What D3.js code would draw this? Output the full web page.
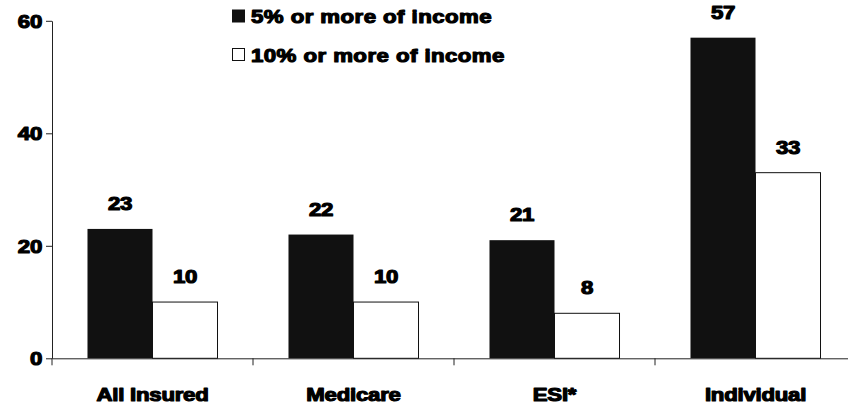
<!DOCTYPE html>
<html><head><meta charset="utf-8">
<script src="https://cdn.jsdelivr.net/npm/d3@7"></script>
<style>
body{margin:0;background:#fff;}
svg{display:block;}
text{font-family:"Liberation Sans",Arial,sans-serif;font-weight:bold;fill:#000;stroke:#000;stroke-width:1.1px;stroke-linejoin:round;letter-spacing:-0.2px;}
text.legend{letter-spacing:0.35px;}
</style></head>
<body>
<svg id="chart" width="848" height="406"></svg>
<script>
const categories = ["All Insured","Medicare","ESI*","Individual"];
const seriesNames = ["5% or more of income","10% or more of income"];
const values5 = [23,22,21,57];
const values10 = [10,10,8,33];
const yTickValues = [0,20,40,60];

const seriesFill = ["#111111","#ffffff"];
const SX = 1.27; // horizontal stretch of the heavy original typeface
const FS = 17.5;

const svg = d3.select("#chart");
const mLeft = 52, mRight = 856, mTop = 20.8, mBottom = 358.3;

const y = d3.scaleLinear().domain([0,60]).range([mBottom, mTop]);
const x0 = d3.scaleBand().domain(categories).range([mLeft, mRight]).padding(0);
const x1 = d3.scaleBand().domain(seriesNames).range([0, x0.bandwidth()]).paddingInner(0).paddingOuter(0.546);

const rows = categories.map((c,i)=>({cat:c, vals:[values5[i], values10[i]]}));

// bars
const g = svg.append("g");
rows.forEach(r=>{
  r.vals.forEach((v,j)=>{
    const s = seriesNames[j];
    g.append("rect")
      .attr("x", x0(r.cat)+x1(s))
      .attr("y", y(v))
      .attr("width", x1.bandwidth())
      .attr("height", y(0)-y(v))
      .attr("fill", seriesFill[j])
      .attr("stroke", j===1 ? "#111" : "none")
      .attr("stroke-width", 1);
    const cx = x0(r.cat)+x1(s)+x1.bandwidth()/2, cy = y(v)-19;
    g.append("text")
      .attr("transform", `translate(${cx},${cy}) scale(${SX},1)`)
      .attr("text-anchor","middle")
      .style("font-size", FS+"px")
      .text(v);
  });
});

// y axis
const yAxis = svg.append("g").attr("transform",`translate(${mLeft},0)`)
  .call(d3.axisLeft(y).tickValues(yTickValues).tickSize(6).tickSizeOuter(0).tickFormat(d3.format("d")));
yAxis.select(".domain").attr("stroke","#222");
yAxis.selectAll(".tick line").attr("stroke","#222");
yAxis.selectAll(".tick text")
  .attr("x",0).attr("dy",null)
  .attr("transform",`translate(-10,6.5) scale(${SX},1)`)
  .style("font-size", FS+"px").attr("font-family",null);

// x axis
const xAxis = svg.append("g").attr("transform",`translate(0,${mBottom})`)
  .call(d3.axisBottom(x0).tickSize(0).tickSizeOuter(0));
xAxis.select(".domain").attr("stroke","#222");
xAxis.selectAll(".tick text")
  .attr("y",0).attr("dy",null)
  .attr("transform",`translate(0,43) scale(${SX},1)`)
  .style("font-size", FS+"px").attr("font-family",null);
// boundary ticks
xAxis.selectAll(".bound").data(categories).enter().append("line")
  .attr("x1", d=>x0(d)).attr("x2", d=>x0(d))
  .attr("y1", 0).attr("y2", 7).attr("stroke","#222");

// legend
const lg = svg.append("g");
seriesNames.forEach((s,j)=>{
  const ly = 10 + j*38.5;
  lg.append("rect").attr("x",232.5).attr("y",ly).attr("width",12).attr("height",12)
    .attr("fill",seriesFill[j]).attr("stroke","#111").attr("stroke-width",1);
  lg.append("text").attr("class","legend").attr("transform",`translate(251,${ly+13}) scale(${SX},1)`)
    .style("font-size", FS+"px").text(s);
});
</script>
</body></html>
